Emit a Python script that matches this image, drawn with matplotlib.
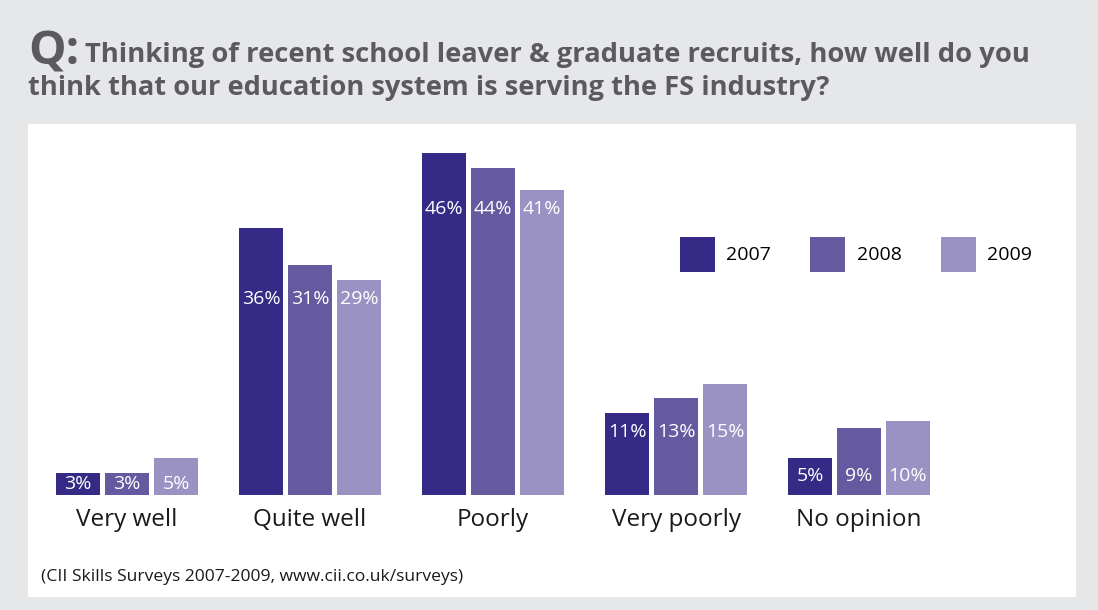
import matplotlib
matplotlib.use("Agg")
import matplotlib.pyplot as plt
from matplotlib.patches import Patch

# Survey responses (% of respondents)
categories = ["Very well", "Quite well", "Poorly", "Very poorly", "No opinion"]
years = ["2007", "2008", "2009"]
values_2007 = [3, 36, 46, 11, 5]
values_2008 = [3, 31, 44, 13, 9]
values_2009 = [5, 29, 41, 15, 10]
series = [values_2007, values_2008, values_2009]
colors = ["#352a85", "#655a9f", "#9a92c3"]

W, H = 1098, 610
fig = plt.figure(figsize=(W / 100, H / 100), dpi=100)
fig.patch.set_facecolor("#e6e7e9")

# White panel doubles as the plotting area
left, right, top, bottom = 28, 1076, 124, 597
ax = fig.add_axes([left / W, 1 - bottom / H, (right - left) / W, (bottom - top) / H])
ax.set_facecolor("white")
for s in ax.spines.values():
    s.set_visible(False)
ax.set_xticks([])
ax.set_yticks([])

stride = 183.0        # pixels between groups
px_per_unit = 7.43    # pixels per percentage point
baseline = 495
first_center = 127
ax.set_xlim((left - first_center) / stride, (right - first_center) / stride)
ax.set_ylim(-(bottom - baseline) / px_per_unit, (baseline - top) / px_per_unit)

bw = 44 / stride
step = 49 / stride
label_font = "Open Sans"
for j, (vals, c) in enumerate(zip(series, colors)):
    xs = [i + (j - 1) * step for i in range(len(categories))]
    ax.bar(xs, vals, width=bw, color=c, linewidth=0)

# Value labels sit level with the top of the shortest bar in each group
for i in range(len(categories)):
    grp_min = min(v[i] for v in series)
    y = max(grp_min - 19 / px_per_unit, grp_min / 2)
    for j, vals in enumerate(series):
        ax.text(i + (j - 1) * step, y, f"{vals[i]}%", ha="center", va="center",
                color="white", fontsize=14, family=label_font)

for i, cat in enumerate(categories):
    ax.text(i, -25 / px_per_unit, cat, ha="center", va="center",
            fontsize=17.5, color="#1a1a1a", family=label_font)

ax.text(41 / W, 1 - 577 / H, "(CII Skills Surveys 2007-2009, www.cii.co.uk/surveys)",
        transform=fig.transFigure, ha="left", va="center", fontsize=12.6,
        color="#1a1a1a", family=label_font)

handles = [Patch(facecolor=c, edgecolor="none") for c in colors]
fig.legend(handles, years, loc="upper left",
           bbox_to_anchor=(670 / W, 1 - 227 / H), bbox_transform=fig.transFigure,
           ncol=3, frameon=False, borderpad=0,
           handlelength=1.8, handleheight=2.4, handletextpad=0.6,
           columnspacing=2.0, prop={"family": label_font, "size": 14})

# Title block
title_color = "#5b5b5d"
tkw = dict(transform=fig.transFigure, color=title_color, weight="bold",
           family="Open Sans", va="baseline", ha="left")
q = fig.text(28 / W, 1 - 64 / H, "Q:", fontsize=34, **tkw)
fig.canvas.draw()
renderer = fig.canvas.get_renderer()
qx1 = q.get_window_extent(renderer).x1
line1 = fig.text(qx1 / W + 6 / W, 1 - 62 / H,
                 "Thinking of recent school leaver & graduate recruits, how well do you",
                 fontsize=20, **tkw)
line2 = fig.text(28 / W, 1 - 95 / H,
                 "think that our education system is serving the FS industry?",
                 fontsize=20, **tkw)
fig.canvas.draw()
# Fit title lines to the panel width
for t, target in [(line1, 1030 - qx1 - 6), (line2, 800)]:
    w = t.get_window_extent(renderer).width
    t.set_fontsize(t.get_fontsize() * target / w)

fig.savefig("out.png", dpi=100, facecolor=fig.get_facecolor())
